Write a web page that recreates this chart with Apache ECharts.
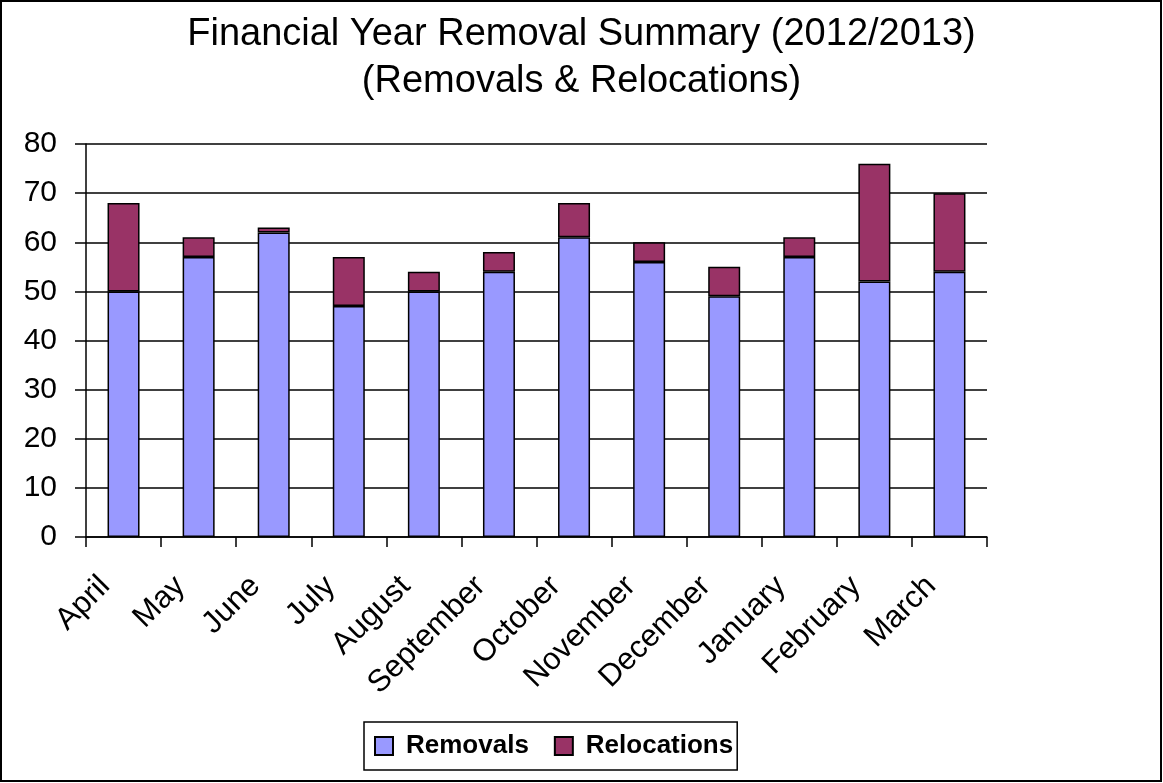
<!DOCTYPE html>
<html>
<head>
<meta charset="utf-8">
<script src="https://cdn.jsdelivr.net/npm/echarts@6/dist/echarts.min.js"></script>
<style>
  html, body { margin: 0; padding: 0; background: #fff; }
  #chart { width: 1163px; height: 783px; }
</style>
</head>
<body>
<div id="chart"></div>
<script>
// Monthly figures for the 2012/2013 financial year
const months = ['April', 'May', 'June', 'July', 'August', 'September',
  'October', 'November', 'December', 'January', 'February', 'March'];
const removals = [50, 57, 62, 47, 50, 54, 61, 56, 49, 57, 52, 54];
const relocations = [18, 4, 1, 10, 4, 4, 7, 4, 6, 4, 24, 16];
const yTicks = [0, 10, 20, 30, 40, 50, 60, 70, 80];

const FONT = 'Liberation Sans, Arial, sans-serif';
const chart = echarts.init(document.getElementById('chart'), null, { renderer: 'canvas' });

const barStyle = (color) => ({
  color: color,
  borderColor: '#000',
  borderWidth: 1.5
});

chart.setOption({
  backgroundColor: '#fff',
  animation: false,
  title: {
    text: 'Financial Year Removal Summary (2012/2013)\n(Removals & Relocations)',
    left: 'center',
    top: 6,
    padding: [5, 10, 5, 0],
    textStyle: {
      fontFamily: FONT,
      fontSize: 38,
      fontWeight: 'normal',
      lineHeight: 47,
      color: '#000'
    }
  },
  legend: {
    left: 364,
    top: 722,
    itemWidth: 18,
    itemHeight: 18,
    itemGap: 25,
    padding: [11, 4, 11, 10],
    borderColor: '#000',
    borderWidth: 1.5,
    icon: 'rect',
    textStyle: {
      fontFamily: FONT,
      fontSize: 26,
      fontWeight: 'bold',
      color: '#000',
      padding: [0, 0, 0, 8]
    },
    data: ['Removals', 'Relocations']
  },
  grid: {
    left: 86,
    right: 176,
    top: 144,
    bottom: 246,
    containLabel: false
  },
  xAxis: {
    type: 'category',
    data: months,
    boundaryGap: true,
    axisLine: { lineStyle: { color: '#000', width: 1.5 } },
    axisTick: { show: true, length: 10, inside: false, lineStyle: { color: '#000', width: 1.5 } },
    axisLabel: {
      interval: 0,
      rotate: 45,
      margin: 26,
      padding: [0, 26, 0, 0],
      fontFamily: FONT,
      fontSize: 31,
      color: '#000'
    }
  },
  yAxis: {
    type: 'value',
    min: yTicks[0],
    max: yTicks[yTicks.length - 1],
    interval: yTicks[1] - yTicks[0],
    axisLine: { show: true, lineStyle: { color: '#000', width: 1.5 } },
    axisTick: { show: true, length: 11, lineStyle: { color: '#000', width: 1.5 } },
    axisLabel: {
      margin: 29,
      fontFamily: FONT,
      fontSize: 30,
      color: '#000'
    },
    splitLine: { show: true, lineStyle: { color: '#000', width: 1.5 } }
  },
  series: [
    {
      name: 'Removals',
      type: 'bar',
      stack: 'total',
      barWidth: 32,
      data: removals,
      itemStyle: barStyle('#9999FF')
    },
    {
      name: 'Relocations',
      type: 'bar',
      stack: 'total',
      barWidth: 32,
      data: relocations,
      itemStyle: barStyle('#993366')
    }
  ],
  graphic: [
    {
      type: 'rect',
      silent: true,
      z: 100,
      shape: { x: 1, y: 1, width: 1160, height: 780 },
      style: { fill: 'none', stroke: '#000', lineWidth: 2 }
    }
  ]
});
</script>
</body>
</html>
